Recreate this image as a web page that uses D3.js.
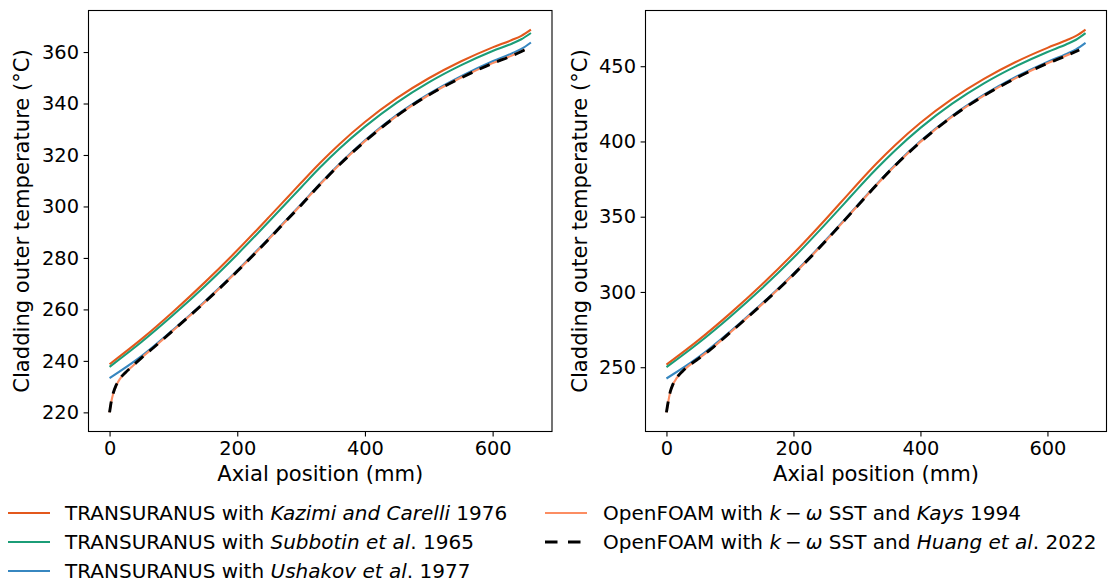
<!DOCTYPE html>
<html>
<head>
<meta charset="utf-8">
<script src="https://cdn.jsdelivr.net/npm/d3@7"></script>
<style>
  html, body { margin: 0; padding: 0; background: #fff; }
  svg text { font-family: "DejaVu Sans", sans-serif; fill: #000; }
</style>
</head>
<body>
<svg id="chart" width="1108" height="583"></svg>
<script>
// Axial positions (mm) of the TRANSURANUS results
const zTU = [0, 50, 100, 150, 200, 250, 280, 300, 330, 360, 400, 450, 500, 550, 600, 630, 645, 660];
// Axial positions (mm) of the OpenFOAM results (refined near the inlet)
const zOF = [0, 3, 6, 10, 16, 25, 35, 50, 70, 100, 150, 200, 250, 280, 300, 330, 360, 400, 450, 500, 550, 600, 630, 650];

// Case 1 — cladding outer temperature (°C)
const case1Kazimi   = [238.7, 248.45, 259.2, 270.7, 282.95, 295.95, 303.9, 309.2, 317.0, 324.2, 332.8, 342.05, 349.8, 356.3, 361.8, 364.65, 366.3, 368.7];
const case1Subbotin = [237.7, 247.35, 257.9, 269.2, 281.35, 294.25, 302.15, 307.4, 315.2, 322.4, 331.0, 340.35, 348.2, 354.8, 360.4, 363.25, 364.95, 367.4];
const case1Ushakov  = [233.3, 241.85, 252.2, 263.3, 275.15, 287.75, 295.6, 300.9, 308.9, 316.5, 325.7, 335.55, 343.7, 350.5, 356.4, 359.45, 361.2, 363.7];
const case1Kays     = [220.0, 224.5, 227.5, 230.2, 232.9, 235.4, 237.7, 241.2, 245.4, 251.9, 263.0, 274.85, 287.45, 295.3, 300.6, 308.6, 316.2, 325.4, 335.2, 343.3, 350.0, 355.7, 358.6, 360.9];
const case1Huang    = [220.0, 224.7, 227.7, 230.4, 233.0, 235.5, 237.8, 241.2, 245.4, 251.9, 263.0, 274.8, 287.45, 295.3, 300.5, 308.6, 316.2, 325.3, 335.2, 343.3, 349.9, 355.6, 358.5, 360.8];

// Case 2 — cladding outer temperature (°C)
const case2Kazimi   = [251.7, 267.8, 285.6, 304.8, 325.5, 348.0, 362.0, 371.4, 385.0, 397.5, 412.4, 428.3, 441.6, 452.8, 462.2, 467.2, 470.1, 474.3];
const case2Subbotin = [250.0, 265.9, 283.4, 302.3, 322.7, 344.9, 358.7, 368.0, 381.5, 394.0, 409.0, 425.1, 438.6, 449.9, 459.5, 464.6, 467.6, 472.0];
const case2Ushakov  = [242.5, 256.5, 273.6, 292.1, 312.1, 334.0, 347.8, 357.2, 371.1, 384.3, 400.2, 417.1, 431.1, 442.9, 452.9, 458.2, 461.2, 465.5];
const case2Kays     = [220.0, 227.5, 233.5, 238.3, 242.7, 247.1, 250.9, 255.5, 262.0, 272.9, 291.6, 311.6, 333.5, 347.4, 356.8, 370.7, 383.9, 399.7, 416.5, 430.4, 442.1, 452.0, 457.1, 460.9];
const case2Huang    = [220.0, 227.8, 233.7, 238.4, 242.8, 247.2, 251.0, 255.5, 262.0, 272.9, 291.6, 311.5, 333.5, 347.4, 356.7, 370.7, 383.9, 399.6, 416.5, 430.4, 442.0, 451.9, 457.0, 460.8];

// Tick values
const xTicks = [0, 200, 400, 600];
const case1YTicks = [220, 240, 260, 280, 300, 320, 340, 360];
const case2YTicks = [250, 300, 350, 400, 450];

// Axis titles
const xTitle = "Axial position (mm)";
const yTitle = "Cladding outer temperature (°C)";

// Series styling and legend text (segments: [text, italic])
const seriesStyle = [
  { key: "Kazimi",   color: "#e3581c", width: 2.1, dash: null },
  { key: "Subbotin", color: "#1b9d77", width: 2.1, dash: null },
  { key: "Ushakov",  color: "#3787c0", width: 2.1, dash: null },
  { key: "Kays",     color: "#fc8d62", width: 2.1, dash: null },
  { key: "Huang",    color: "#000000", width: 2.9, dash: "11,8" }
];
const legendLabels = [
  [["TRANSURANUS with ", false], ["Kazimi and Carelli", true], [" 1976", false]],
  [["TRANSURANUS with ", false], ["Subbotin et al", true], [". 1965", false]],
  [["TRANSURANUS with ", false], ["Ushakov et al", true], [". 1977", false]],
  [["OpenFOAM with ", false], ["k", true], ["\u2009\u2212\u2009", false], ["\u03c9", true], [" SST and ", false], ["Kays", true], [" 1994", false]],
  [["OpenFOAM with ", false], ["k", true], ["\u2009\u2212\u2009", false], ["\u03c9", true], [" SST and ", false], ["Huang et al", true], [". 2022", false]]
];

const svg = d3.select("#chart");
const tickFont = 19.4, titleFont = 21.1, legendFont = 20;

const panels = [
  { left: 88.5, right: 552, top: 10.5, bottom: 431.5, yTicks: case1YTicks, ylabX: 22,
    series: { Kazimi: [zTU, case1Kazimi], Subbotin: [zTU, case1Subbotin], Ushakov: [zTU, case1Ushakov], Kays: [zOF, case1Kays], Huang: [zOF, case1Huang] } },
  { left: 645.5, right: 1106.5, top: 10.5, bottom: 431.5, yTicks: case2YTicks, ylabX: 580,
    series: { Kazimi: [zTU, case2Kazimi], Subbotin: [zTU, case2Subbotin], Ushakov: [zTU, case2Ushakov], Kays: [zOF, case2Kays], Huang: [zOF, case2Huang] } }
];

panels.forEach((p, i) => {
  // data limits with 5 % margins
  const allZ = [...zTU, ...zOF];
  const allT = Object.values(p.series).flatMap(s => s[1]);
  const [zmin, zmax] = d3.extent(allZ);
  const [tmin, tmax] = d3.extent(allT);
  const zm = (zmax - zmin) * 0.05, tm = (tmax - tmin) * 0.05;

  const x = d3.scaleLinear().domain([zmin - zm, zmax + zm]).range([p.left, p.right]);
  const y = d3.scaleLinear().domain([tmin - tm, tmax + tm]).range([p.bottom, p.top]);

  const g = svg.append("g");
  const clipId = "clip" + i;
  g.append("clipPath").attr("id", clipId)
    .append("rect").attr("x", p.left).attr("y", p.top)
    .attr("width", p.right - p.left).attr("height", p.bottom - p.top);

  const line = d3.line().x(d => x(d[0])).y(d => y(d[1])).curve(d3.curveMonotoneX);
  const plot = g.append("g").attr("clip-path", `url(#${clipId})`);
  seriesStyle.forEach(s => {
    const [zs, ts] = p.series[s.key];
    const pts = zs.map((z, k) => [z, ts[k]]);
    plot.append("path").datum(pts)
      .attr("d", line)
      .attr("fill", "none")
      .attr("stroke", s.color)
      .attr("stroke-width", s.width)
      .attr("stroke-dasharray", s.dash)
      .attr("stroke-linejoin", "round");
  });

  // axes
  const xAxis = g.append("g").attr("transform", `translate(0,${p.bottom})`)
    .call(d3.axisBottom(x).tickValues(xTicks).tickSize(4.9).tickPadding(4.6).tickSizeOuter(0));
  const yAxis = g.append("g").attr("transform", `translate(${p.left},0)`)
    .call(d3.axisLeft(y).tickValues(p.yTicks).tickSize(4.9).tickPadding(4.6).tickSizeOuter(0));
  [xAxis, yAxis].forEach(a => {
    a.select(".domain").remove();
    a.selectAll(".tick line").attr("stroke", "#000").attr("stroke-width", 1.1);
    a.selectAll(".tick text").attr("font-size", tickFont).attr("font-family", "DejaVu Sans").attr("fill", "#000");
  });

  // frame
  g.append("rect").attr("x", p.left).attr("y", p.top)
    .attr("width", p.right - p.left).attr("height", p.bottom - p.top)
    .attr("fill", "none").attr("stroke", "#000").attr("stroke-width", 1.1);

  // titles
  g.append("text").attr("x", (p.left + p.right) / 2).attr("y", 481)
    .attr("text-anchor", "middle").attr("font-size", titleFont).text(xTitle);
  g.append("text")
    .attr("transform", `translate(${p.ylabX},${(p.top + p.bottom) / 2}) rotate(-90)`)
    .attr("text-anchor", "middle").attr("dy", "0.35em").attr("font-size", titleFont).text(yTitle);
});

// legend
const legendPos = [
  { hx: 8, tx: 65, y: 513 }, { hx: 8, tx: 65, y: 542 }, { hx: 8, tx: 65, y: 571 },
  { hx: 545, tx: 603, y: 513 }, { hx: 545, tx: 603, y: 542 }
];
const leg = svg.append("g");
seriesStyle.forEach((s, i) => {
  const pos = legendPos[i];
  leg.append("line").attr("x1", pos.hx).attr("x2", pos.hx + 42).attr("y1", pos.y).attr("y2", pos.y)
    .attr("stroke", s.color).attr("stroke-width", s.width).attr("stroke-dasharray", s.dash ? "12.5,10.5" : null);
  const t = leg.append("text").attr("x", pos.tx).attr("y", pos.y).attr("dy", "0.35em").attr("font-size", legendFont);
  legendLabels[i].forEach(([str, it]) => {
    t.append("tspan").attr("font-style", it ? "italic" : "normal").text(str);
  });
});
</script>
</body>
</html>
